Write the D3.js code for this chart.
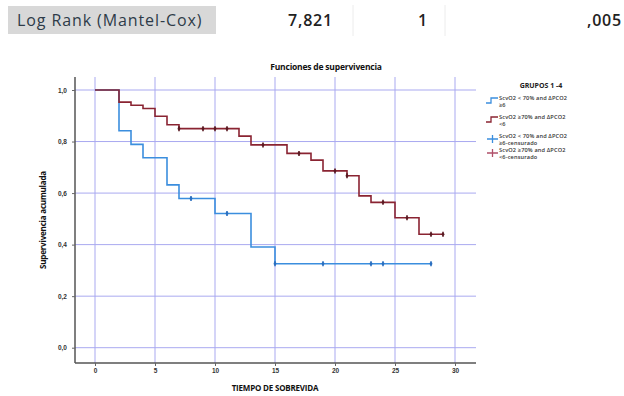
<!DOCTYPE html>
<html>
<head>
<meta charset="utf-8">
<script src="https://cdn.jsdelivr.net/npm/d3@7"></script>
<style>
  body { margin: 0; background: #fff; }
  svg { display: block; font-family: "Open Sans", "DejaVu Sans", sans-serif; }
</style>
</head>
<body>
<svg id="chart" width="624" height="396"></svg>
<script>
// survival steps
const blueTimes = [0, 2, 3, 4, 6, 7, 10, 13, 15, 28];
const blueSurv = [1, 0.842, 0.789, 0.737, 0.632, 0.579, 0.521, 0.391, 0.326, 0.326];
const blueCensor = [8, 11, 15, 19, 23, 24, 28];

const redTimes = [0, 2, 3, 4, 5, 6, 7, 12, 13, 16, 18, 19, 21, 22, 23, 25, 27, 29];
const redSurv = [1, 0.953, 0.941, 0.928, 0.898, 0.865, 0.850, 0.821, 0.787, 0.754, 0.728, 0.686, 0.667, 0.589, 0.564, 0.504, 0.44, 0.44];
const redCensor = [7, 9, 10, 11, 14, 17, 20, 21, 24, 26, 28, 29];

const xTicks = [0, 5, 10, 15, 20, 25, 30];
const yTicks = [0, 0.2, 0.4, 0.6, 0.8, 1.0];

const headerCells = ["7,821", "1", ",005"];
const legendTitle = "GRUPOS 1 -4";
const legendItems = [
  ["ScvO2 < 70% and \u0394PCO2", "\u22656"],
  ["ScvO2 \u226570% and \u0394PCO2", "<6"],
  ["ScvO2 < 70% and \u0394PCO2", "\u22656-censurado"],
  ["ScvO2 \u226570% and \u0394PCO2", "<6-censurado"]
];

const blue = "#3b8ede", red = "#8a2432", redCens = "#5a1a22", grid = "#a9a9f0";

const svg = d3.select("#chart");

// header row of the log rank table
svg.append("rect").attr("x", 8).attr("y", 6).attr("width", 208).attr("height", 28).attr("fill", "#d8d8d8");
svg.append("text").attr("x", 17).attr("y", 26).attr("font-size", 16).attr("fill", "#2e3b48")
  .attr("letter-spacing", 0.9).text("Log Rank (Mantel-Cox)");
[353, 445].forEach(x => svg.append("line").attr("x1", x).attr("x2", x).attr("y1", 5).attr("y2", 36)
  .attr("stroke", "#ececec"));
const cellX = [333, 428, 622];
headerCells.forEach((t, i) => svg.append("text").attr("x", cellX[i]).attr("y", 26)
  .attr("text-anchor", "end").attr("font-size", 16).attr("font-weight", 600).attr("fill", "#222")
  .attr("letter-spacing", 0.8).text(t));

// scales
const x = d3.scaleLinear().domain([0, 30]).range([95, 455]);
const y = d3.scaleLinear().domain([0, 1]).range([347.7, 90]);
const fmt = d => d3.format(".1f")(d).replace(".", ",");

// grid
const g = svg.append("g");
g.selectAll(".vg").data(xTicks).enter().append("line")
  .attr("x1", d => x(d)).attr("x2", d => x(d)).attr("y1", 77).attr("y2", 363)
  .attr("stroke", grid).attr("stroke-width", 1);
g.selectAll(".hg").data(yTicks).enter().append("line")
  .attr("x1", 75).attr("x2", 476).attr("y1", d => y(d)).attr("y2", d => y(d))
  .attr("stroke", grid).attr("stroke-width", 1);

// axes
svg.append("g").attr("transform", "translate(75,0)")
  .call(d3.axisLeft(y).tickValues(yTicks).tickSize(3).tickFormat(fmt))
  .call(a => a.select(".domain").attr("d", "M0,77V363"))
  .call(a => a.selectAll("line").attr("stroke", "#666"))
  .call(a => a.selectAll("text").attr("font-size", 6.5).attr("font-weight", 700).attr("fill", "#333").attr("dx", -2));
svg.append("g").attr("transform", "translate(0,363)")
  .call(d3.axisBottom(x).tickValues(xTicks).tickSize(3).tickFormat(d3.format("d")))
  .call(a => a.select(".domain").attr("d", "M75,0H476"))
  .call(a => a.selectAll("line").attr("stroke", "#666"))
  .call(a => a.selectAll("text").attr("font-size", 6.5).attr("font-weight", 700).attr("fill", "#333").attr("dy", 4));
svg.selectAll(".domain").attr("stroke", "#555").attr("stroke-width", 1.5);

// titles
svg.append("text").attr("x", 326).attr("y", 70).attr("text-anchor", "middle")
  .attr("font-size", 8.5).attr("font-weight", 700).attr("fill", "#111").attr("letter-spacing", -0.2)
  .text("Funciones de supervivencia");
svg.append("text").attr("x", 275).attr("y", 391).attr("text-anchor", "middle")
  .attr("font-size", 8).attr("font-weight", 700).attr("fill", "#111").attr("letter-spacing", -0.2)
  .text("TIEMPO DE SOBREVIDA");
svg.append("text").attr("transform", "translate(46,220) rotate(-90)").attr("text-anchor", "middle")
  .attr("font-size", 8).attr("font-weight", 700).attr("fill", "#111").attr("letter-spacing", -0.2)
  .text("Supervivencia acumulada");

// curves
const line = d3.line().x(d => x(d[0])).y(d => y(d[1])).curve(d3.curveStepAfter);
const survAt = (times, surv, t) => surv[d3.bisectRight(times, t) - 1];

function drawCurve(times, surv, censor, color, cColor) {
  svg.append("path").datum(d3.zip(times, surv)).attr("d", line)
    .attr("fill", "none").attr("stroke", color).attr("stroke-width", 1.6);
  svg.selectAll(null).data(censor).enter().append("line")
    .attr("x1", d => x(d)).attr("x2", d => x(d))
    .attr("y1", d => y(survAt(times, surv, d)) - 2.5).attr("y2", d => y(survAt(times, surv, d)) + 2.5)
    .attr("stroke", cColor).attr("stroke-width", 1.6);
  svg.selectAll(null).data(censor).enter().append("circle")
    .attr("cx", d => x(d)).attr("cy", d => y(survAt(times, surv, d))).attr("r", 1.4)
    .attr("fill", cColor);
}
drawCurve(blueTimes, blueSurv, blueCensor, blue, "#2a6fc0");
drawCurve(redTimes, redSurv, redCensor, red, redCens);

// legend
svg.append("text").attr("x", 541).attr("y", 88).attr("text-anchor", "middle")
  .attr("font-size", 7).attr("font-weight", 700).attr("fill", "#222").text(legendTitle);
const legY = [100, 119, 138, 152];
const legColor = [blue, red, blue, "#b0506a"];
legendItems.forEach((it, i) => {
  const yy = legY[i];
  if (i < 2) {
    svg.append("path").attr("d", `M486,${yy + 3}H491V${yy - 2}H498`)
      .attr("fill", "none").attr("stroke", legColor[i]).attr("stroke-width", 1.3);
  } else {
    svg.append("path").attr("d", `M487,${yy + 1}H498M492.5,${yy - 3}V${yy + 5}`)
      .attr("fill", "none").attr("stroke", legColor[i]).attr("stroke-width", 1.3);
  }
  svg.append("text").attr("x", 499).attr("y", yy).attr("font-size", 5.6)
    .attr("font-weight", 600).attr("fill", "#333").attr("letter-spacing", 0.15).text(it[0]);
  svg.append("text").attr("x", 499).attr("y", yy + 7).attr("font-size", 5.6)
    .attr("font-weight", 600).attr("fill", "#333").attr("letter-spacing", 0.15).text(it[1]);
});
</script>
</body>
</html>
